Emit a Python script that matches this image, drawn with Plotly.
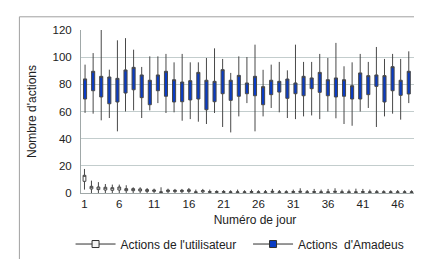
import plotly.graph_objects as go

# ---- data ----
user_days = list(range(1, 51))
user_q1 = [8.6, 3.0, 2.5, 2.2, 2.0, 2.2, 1.7, 1.7, 1.5, 1.2,
           1.2, 0.3, 1.0, 1.0, 1.0, 1.2, 0.3, 0.8, 0.4, 0.4,
           0.4, 0.3, 0.3, 0.3, 0.4, 0.3, 0.3, 0.5, 0.3, 0.3,
           0.4, 0.5, 0.3, 0.4, 0.3, 0.3, 0.5, 0.3, 0.3, 0.3,
           0.4, 0.3, 0.3, 0.3, 0.3, 0.3, 0.3, 0.3, 0.3, 0.3]
user_q3 = [13.0, 4.9, 4.4, 4.2, 3.9, 4.4, 3.2, 3.2, 3.0, 2.5,
           2.2, 0.8, 2.2, 2.0, 2.0, 2.4, 0.8, 1.8, 1.0, 1.0,
           1.0, 0.8, 0.8, 0.8, 1.0, 0.8, 0.8, 1.2, 0.8, 0.8,
           1.0, 1.2, 0.8, 1.0, 0.8, 0.8, 1.2, 0.8, 0.8, 0.8,
           1.0, 0.8, 0.8, 0.8, 0.8, 0.8, 0.8, 0.8, 0.8, 0.8]
user_hi = [17.7, 9.1, 8.0, 6.6, 6.2, 6.2, 5.7, 4.2, 4.2, 3.7,
           3.2, 4.2, 3.2, 3.0, 3.0, 3.7, 2.5, 3.0, 2.5, 2.0,
           2.2, 2.0, 2.5, 2.0, 2.5, 2.0, 2.2, 3.0, 2.2, 2.0,
           2.5, 3.5, 2.2, 3.0, 2.5, 3.0, 3.5, 2.5, 2.5, 3.2,
           3.0, 2.5, 2.2, 2.0, 2.0, 2.2, 2.0, 2.0, 2.5, 2.0]
user_lo = [2.5] + [0.0] * 49

ama_days = list(range(1, 44))
ama_q3 = [84.0, 89.6, 85.9, 85.4, 84.4, 90.6, 92.5, 86.9, 83.0, 86.9,
          89.6, 83.4, 81.7, 82.7, 88.8, 83.0, 82.2, 90.8, 83.0, 86.6,
          81.0, 85.9, 78.3, 83.0, 82.2, 83.9, 81.0, 85.9, 84.7, 88.8,
          83.4, 84.7, 83.4, 79.0, 88.4, 86.4, 86.9, 86.4, 93.0, 83.0,
          89.6, 88.4, 81.5]
ama_q1 = [69.2, 75.3, 70.7, 65.7, 67.0, 73.6, 76.0, 70.2, 65.0, 75.3,
          71.2, 67.0, 67.2, 68.5, 69.2, 61.3, 67.2, 73.1, 68.2, 71.2,
          73.1, 71.6, 65.0, 72.4, 74.3, 69.7, 73.1, 71.6, 76.8, 74.1,
          71.6, 70.7, 71.2, 69.2, 69.2, 72.4, 78.5, 67.0, 75.3, 71.9,
          72.9, 69.7, 66.2]
ama_hi = [94.5, 103.0, 120.8, 90.8, 112.4, 114.0, 105.5, 92.8, 100.6, 100.6,
          102.4, 96.2, 102.4, 96.2, 96.2, 99.4, 106.5, 98.7, 88.4, 100.6,
          100.1, 109.2, 90.7, 94.5, 96.5, 90.3, 109.2, 96.5, 96.5, 102.4,
          99.4, 110.5, 93.3, 96.2, 102.4, 96.5, 107.5, 98.7, 102.4, 98.7,
          104.3, 101.4, 100.6]
ama_lo = [59.0, 58.4, 53.5, 55.2, 45.4, 60.0, 60.8, 55.2, 60.8, 66.2,
          58.9, 59.4, 53.2, 54.4, 52.5, 50.8, 58.9, 48.6, 44.6, 56.4,
          66.2, 45.4, 56.4, 62.6, 59.4, 55.2, 54.4, 56.4, 57.1, 54.4,
          60.0, 55.0, 50.8, 49.5, 60.0, 62.6, 48.6, 56.4, 58.4, 54.0,
          66.2, 58.4, 55.2]

x_tickvals = [1, 6, 11, 16, 21, 26, 31, 36, 41, 46]
y_tickvals = [0, 20, 40, 60, 80, 100, 120]

FONT = "Liberation Sans"
BLUE = "#0a3cc4"
TXT = "#222"

fig = go.Figure()
fig.add_trace(go.Box(
    name="Actions de l'utilisateur",
    x=user_days, q1=user_q1, median=user_q3, q3=user_q3,
    lowerfence=user_lo, upperfence=user_hi,
    width=0.4, whiskerwidth=0,
    fillcolor="#ffffff", line=dict(color="#454545", width=1),
    xaxis="x", yaxis="y", boxpoints=False, showlegend=False,
))
fig.add_trace(go.Box(
    name="Actions d'Amadeus",
    x=ama_days, q1=ama_q1, median=ama_q3, q3=ama_q3,
    lowerfence=ama_lo, upperfence=ama_hi,
    width=0.38, whiskerwidth=0,
    fillcolor=BLUE, line=dict(color="#484848", width=1),
    xaxis="x2", yaxis="y", boxpoints=False, showlegend=False,
))
# legend-only entries (Excel style: line with box)
fig.add_trace(go.Scatter(
    name="Actions de l'utilisateur", x=[None], y=[None], mode="lines+markers",
    line=dict(color="#303030", width=1),
    marker=dict(symbol="square", size=7, color="#f4f4f4", line=dict(color="#303030", width=1)),
    legend="legend",
))
fig.add_trace(go.Scatter(
    name="Actions  d'Amadeus", x=[None], y=[None], mode="lines+markers",
    line=dict(color="#303030", width=1),
    marker=dict(symbol="square", size=7, color=BLUE, line=dict(color="#303030", width=1)),
    legend="legend2",
))

grid = "#c3cdcd"
leg_common = dict(orientation="h", xanchor="left", y=-0.313, yanchor="middle", itemwidth=40,
                  font=dict(size=12, family=FONT, color=TXT), bgcolor="rgba(0,0,0,0)")
fig.update_layout(
    width=422, height=259,
    margin=dict(l=73, r=1, t=22, b=74),
    paper_bgcolor="white", plot_bgcolor="white",
    font=dict(family=FONT, size=11, color=TXT),
    boxmode="overlay",
    showlegend=True,
    legend=dict(x=-0.03, **leg_common),
    legend2=dict(x=0.48, **leg_common),
    xaxis=dict(range=[0.5, 50.5], tickvals=x_tickvals, ticktext=[str(v) for v in x_tickvals],
               showgrid=False, zeroline=False, showline=True, linecolor="#a0a8a8",
               ticks="",
               tickfont=dict(size=11.5, family=FONT, color=TXT),
               title=dict(text="Numéro de jour", font=dict(size=12, family=FONT, color=TXT), standoff=6)),
    xaxis2=dict(range=[0.5, 43.5], overlaying="x", visible=False),
    yaxis=dict(range=[0, 120], tickvals=y_tickvals, showgrid=True, gridcolor=grid,
               zeroline=False, showline=True, linecolor="#a0a8a8",
               ticks="outside", ticklen=6, tickcolor="rgba(0,0,0,0)",
               tickfont=dict(size=11.5, family=FONT, color=TXT),
               title=dict(text="Nombre d'actions", font=dict(size=12, family=FONT, color=TXT), standoff=13)),
    shapes=[dict(type="rect", xref="paper", yref="paper", x0=-0.177, x1=1.03, y0=-0.7, y1=1.081,
                 line=dict(color="#a0a0a0", width=1), fillcolor="rgba(0,0,0,0)", layer="above")],
)

fig.write_html("out.html")
